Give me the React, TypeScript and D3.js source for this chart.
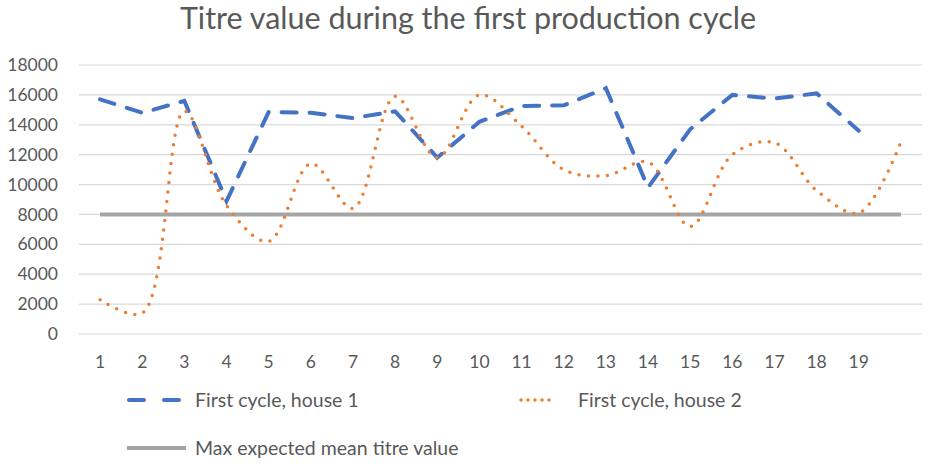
import * as d3 from "d3";

const categories = ["1", "2", "3", "4", "5", "6", "7", "8", "9", "10", "11", "12", "13", "14", "15", "16", "17", "18", "19", ""];
const house1 = [15700, 14800, 15600, 8900, 14850, 14800, 14450, 14900, 11800, 14200, 15250, 15300, 16450, 9800, 13700, 16000, 15750, 16100, 13600];
const house2 = [2300, 1400, 14900, 8600, 6200, 11400, 8400, 15900, 11800, 16000, 13900, 11000, 10600, 11500, 7200, 12000, 12800, 9600, 8100, 12850];
const maxExpected = [8000, 8000, 8000, 8000, 8000, 8000, 8000, 8000, 8000, 8000, 8000, 8000, 8000, 8000, 8000, 8000, 8000, 8000, 8000, 8000];
const yTicks = [0, 2000, 4000, 6000, 8000, 10000, 12000, 14000, 16000, 18000];

const W = 935;
const H = 469;
const font = "Lato, 'Open Sans', sans-serif";
const textColor = "#595959";

export default function App() {
  const x = d3.scaleBand<number>()
    .domain(d3.range(categories.length))
    .range([79, 922]);
  const cx = (i: number) => (x(i) as number) + x.bandwidth() / 2;
  const y = d3.scaleLinear().domain([0, 18000]).range([334, 65]);

  const straight = d3.line<number>().x((_, i) => cx(i)).y(d => y(d));
  const smooth = d3.line<number>().x((_, i) => cx(i)).y(d => y(d)).curve(d3.curveCatmullRom.alpha(0.5));

  return (
    <svg width={W} height={H} style={{ position: "absolute", left: 0, top: 0, background: "#fff" }} fontFamily={font}>
      <text x={468} y={29} textAnchor="middle" fontSize={30.5} fill={textColor}>
        Titre value during the first production cycle
      </text>

      {yTicks.map(t => (
        <g key={t}>
          <line x1={79} x2={922} y1={y(t)} y2={y(t)} stroke="#d9d9d9" strokeWidth={1.2} />
          <text x={58} y={y(t)} dy="0.35em" textAnchor="end" fontSize={17.5} fill={textColor}>{t}</text>
        </g>
      ))}

      {categories.map((c, i) => (
        <text key={i} x={cx(i)} y={362} dy="0.35em" textAnchor="middle" fontSize={17.5} fill={textColor}>{c}</text>
      ))}

      <path d={straight(maxExpected) ?? ""} fill="none" stroke="#a5a5a5" strokeWidth={4} />
      <path d={straight(house1) ?? ""} fill="none" stroke="#4472c4" strokeWidth={4}
        strokeDasharray="15 13" strokeLinecap="round" />
      <path d={smooth(house2) ?? ""} fill="none" stroke="#ed7d31" strokeWidth={3.5}
        strokeDasharray="0 9.5" strokeLinecap="round" />

      <g fontSize={19.5} fill={textColor}>
        <line x1={129} x2={180} y1={400} y2={400} stroke="#4472c4" strokeWidth={4}
          strokeDasharray="15 20" strokeLinecap="round" />
        <text x={195} y={400} dy="0.35em">First cycle, house 1</text>

        <line x1={521} x2={556} y1={400} y2={400} stroke="#ed7d31" strokeWidth={3.5}
          strokeDasharray="0 7" strokeLinecap="round" />
        <text x={578} y={400} dy="0.35em">First cycle, house 2</text>

        <line x1={127} x2={186} y1={448} y2={448} stroke="#a5a5a5" strokeWidth={4} />
        <text x={195} y={448} dy="0.35em">Max expected mean titre value</text>
      </g>
    </svg>
  );
}
